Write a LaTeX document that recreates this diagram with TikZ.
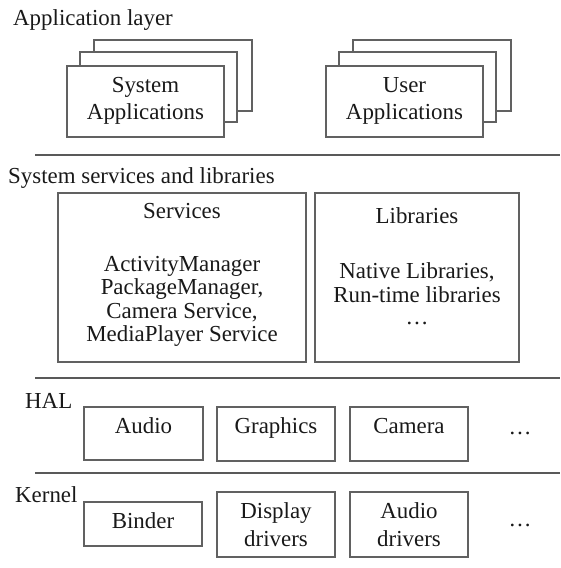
\documentclass[tikz,border=0pt]{standalone}
\usepackage{fontspec}
\setmainfont{Liberation Serif}
\usetikzlibrary{fit}
\begin{document}
\begin{tikzpicture}[x=1pt,y=-1pt,
  box/.style={draw=black!62, line width=1.4pt, fill=white, inner sep=0pt},
  txt/.style={anchor=base, inner sep=0pt, text=black!90,
    font=\fontsize{22.9}{24}\selectfont},
  sepline/.style={draw=black!65, line width=1.6pt}]
\useasboundingbox (0,0) rectangle (560,568);

% ---------- Application layer ----------
\node[txt, anchor=base west] (applbl) at (13,25) {Application layer};

% system applications: stacked sheets, back to front
\node[box, fit={(94,40) (252,111)}]  (sysC) {};
\node[box, fit={(80,52) (237,122)}]  (sysB) {};
\node[box, fit={(67,66) (224,137)}]  (sysA) {};
\node[txt] (sysA1) at (145.5,92)  {System};
\node[txt] (sysA2) at (145.5,119) {Applications};

% user applications
\node[box, fit={(353,40) (511,111)}] (usrC) {};
\node[box, fit={(339,52) (496,122)}] (usrB) {};
\node[box, fit={(326,66) (483,137)}] (usrA) {};
\node[txt] (usrA1) at (404.5,92)  {User};
\node[txt] (usrA2) at (404.5,119) {Applications};

% layer separators
\coordinate (s1a) at (35,155);  \coordinate (s1b) at (560,155);
\coordinate (s2a) at (35,378);  \coordinate (s2b) at (560,378);
\coordinate (s3a) at (35,473);  \coordinate (s3b) at (560,473);
\draw[sepline] (s1a) -- (s1b);
\draw[sepline] (s2a) -- (s2b);
\draw[sepline] (s3a) -- (s3b);

% ---------- System services and libraries ----------
\node[txt, anchor=base west] (ssllbl) at (8,183) {System services and libraries};

\node[box, fit={(58,193) (306,362)}]  (services) {};
\node[txt] (svT) at (182,218)   {Services};
\node[txt] (sv1) at (182,271)   {ActivityManager};
\node[txt] (sv2) at (182,294.5) {PackageManager,};
\node[txt] (sv3) at (182,318)   {Camera Service,};
\node[txt] (sv4) at (182,341.5) {MediaPlayer Service};

\node[box, fit={(315,193) (519,362)}] (libraries) {};
\node[txt] (lbT) at (417,223) {Libraries};
\node[txt] (lb1) at (417,278) {Native Libraries,};
\node[txt] (lb2) at (417,302) {Run-time libraries};
\node[txt] (lb3) at (417,324) {\ldots};

% ---------- HAL ----------
\node[txt, anchor=base west] (hallbl) at (25,408) {HAL};
\node[box, fit={(84,407) (203,460)}]  (audio) {};
\node[box, fit={(217,407) (335,461)}] (graphics) {};
\node[box, fit={(350,407) (468,461)}] (camera) {};
\node[txt] (audioT)    at (143.5,433) {Audio};
\node[txt] (graphicsT) at (276,433)   {Graphics};
\node[txt] (cameraT)   at (409,433)   {Camera};
\node[txt] (halmore)   at (520,434)   {\ldots};

% ---------- Kernel ----------
\node[txt, anchor=base west] (kerlbl) at (15,502) {Kernel};
\node[box, fit={(84,502) (202,546)}]  (binder) {};
\node[box, fit={(217,492) (335,557)}] (display) {};
\node[box, fit={(350,492) (468,557)}] (audiodrv) {};
\node[txt] (binderT) at (143,528) {Binder};
\node[txt] (dispT1)  at (276,518) {Display};
\node[txt] (dispT2)  at (276,546) {drivers};
\node[txt] (adrvT1)  at (409,518) {Audio};
\node[txt] (adrvT2)  at (409,546) {drivers};
\node[txt] (kermore) at (520,526) {\ldots};
\end{tikzpicture}
\end{document}
